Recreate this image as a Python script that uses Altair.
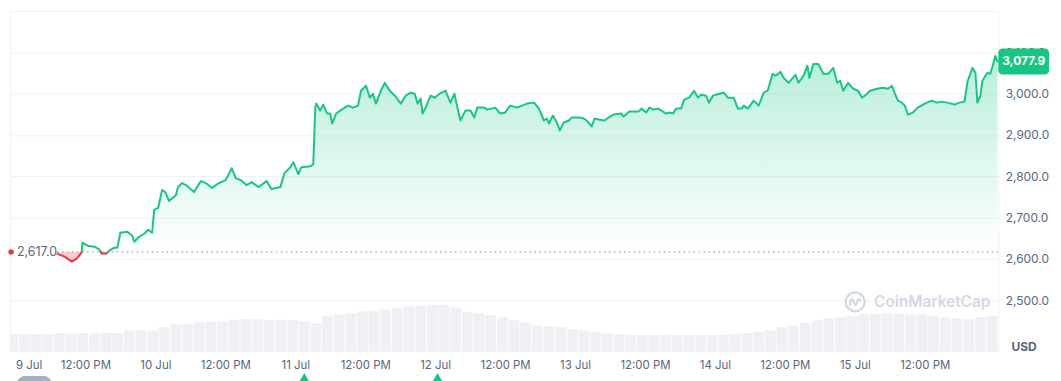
import altair as alt
import pandas as pd

# ---------------- data ----------------
baseline = 2617.0
last_price = 3077.9

# hours after 9 Jul 00:00
hours = [-0.77, 0.77, 2.47, 4.18, 5.88, 7.08, 8.44, 9.64, 10.49, 11.34, 11.51, 12.37, 13.56, 14.41,
         14.76, 15.61, 16.12, 16.97, 17.48, 18.0, 19.19, 20.04, 20.38, 21.24, 22.09, 22.77, 23.45,
         23.8, 24.48, 25.16, 25.67, 26.35, 27.55, 27.89, 28.57, 29.25, 30.62, 31.81, 32.67, 33.69,
         34.88, 36.08, 37.1, 37.78, 38.64, 39.66, 40.51, 41.71, 43.07, 43.92, 45.46, 46.14, 47.17,
         47.68, 48.53, 49.04, 50.58, 51.09, 51.43, 51.6, 52.28, 52.79, 53.48, 53.99, 54.33, 55.01,
         56.21, 57.06, 57.91, 58.77, 59.28, 60.13, 60.81, 61.32, 61.84, 62.69, 63.37, 64.22, 65.08,
         66.1, 66.95, 67.81, 68.49, 69.0, 69.51, 69.85, 70.36, 71.22, 71.9, 72.75, 73.78, 74.63,
         75.31, 75.82, 76.33, 77.19, 78.04, 78.72, 79.23, 80.43, 80.94, 82.31, 83.16, 84.01, 84.86,
         86.06, 87.76, 88.96, 89.81, 90.66, 91.17, 91.52, 92.2, 92.88, 93.39, 94.07, 94.93, 95.44,
         96.8, 97.49, 98.0, 98.85, 99.36, 100.05, 101.07, 101.75, 102.6, 103.97, 104.31, 105.33,
         106.87, 107.38, 108.23, 108.75, 109.43, 110.28, 111.64, 112.16, 112.84, 113.35, 114.2,
         114.72, 115.57, 116.42, 117.1, 117.61, 118.47, 118.98, 119.66, 120.69, 121.54, 122.22,
         123.24, 123.93, 124.61, 124.95, 125.63, 126.66, 127.51, 128.36, 129.04, 129.9, 130.41,
         131.26, 131.77, 132.63, 133.82, 134.33, 135.19, 135.87, 136.21, 136.89, 137.74, 138.6,
         139.45, 140.3, 140.98, 141.5, 142.01, 142.86, 143.71, 144.57, 145.25, 146.1, 146.61,
         147.81, 148.83, 149.68, 150.37, 150.88, 151.39, 152.07, 152.58, 153.1, 153.95, 154.8,
         155.99, 157.19, 158.04, 158.89, 159.92, 161.11, 161.96, 162.82, 163.33, 164.18, 164.69,
         165.03, 165.55, 165.89, 166.74, 167.25, 167.6, 168.1, 168.45]

prices = [2617.0, 2615.4, 2613.0, 2615.4, 2613.0, 2613.0, 2605.7, 2593.7, 2600.9, 2615.4, 2639.4,
          2632.2, 2629.8, 2622.6, 2613.0, 2613.0, 2620.2, 2627.4, 2627.4, 2663.4, 2665.8, 2656.2,
          2641.8, 2653.8, 2661.0, 2670.7, 2663.4, 2718.7, 2723.5, 2766.8, 2762.0, 2740.4, 2754.8,
          2774.0, 2783.6, 2778.8, 2762.0, 2788.4, 2783.6, 2771.6, 2783.6, 2790.9, 2819.7, 2795.7,
          2790.9, 2778.8, 2786.0, 2774.0, 2788.4, 2769.2, 2774.0, 2807.7, 2822.1, 2834.1, 2805.3,
          2822.1, 2824.5, 2829.3, 2966.3, 2976.0, 2959.1, 2973.6, 2951.9, 2951.9, 2927.9, 2951.9,
          2963.9, 2971.2, 2966.3, 2971.2, 3007.2, 3019.2, 2990.4, 3000.0, 2976.0, 3007.2, 3026.4,
          3007.2, 2995.2, 2976.0, 2995.2, 3002.4, 3000.0, 2976.0, 2988.0, 2951.9, 2966.3, 2995.2,
          2990.4, 3000.0, 3007.2, 2978.4, 3000.0, 2966.3, 2935.1, 2959.1, 2959.1, 2942.3, 2966.3,
          2966.3, 2961.5, 2966.3, 2951.9, 2954.3, 2971.2, 2966.3, 2976.0, 2978.4, 2963.9, 2935.1,
          2939.9, 2927.9, 2947.1, 2930.3, 2911.1, 2930.3, 2935.1, 2942.3, 2942.3, 2939.9, 2935.1,
          2920.7, 2939.9, 2937.5, 2935.1, 2942.3, 2949.5, 2951.9, 2944.7, 2956.7, 2956.7, 2963.9,
          2954.3, 2966.3, 2961.5, 2963.9, 2951.9, 2954.3, 2951.9, 2963.9, 2963.9, 2985.6, 2990.4,
          3007.2, 2990.4, 2997.6, 2995.2, 2978.4, 2995.2, 3000.0, 3002.4, 2990.4, 2990.4, 2963.9,
          2963.9, 2971.2, 2963.9, 2983.2, 2971.2, 3002.4, 3007.2, 3048.1, 3043.3, 3052.9, 3038.5,
          3026.4, 3045.7, 3026.4, 3043.3, 3067.3, 3038.5, 3072.1, 3072.1, 3048.1, 3048.1, 3062.5,
          3026.4, 3031.3, 3007.2, 3026.4, 3012.0, 3007.2, 2990.4, 3000.0, 3007.2, 3012.0, 3014.4,
          3012.0, 3019.2, 3000.0, 2983.2, 2978.4, 2971.2, 2949.5, 2954.3, 2966.3, 2976.0, 2983.2,
          2978.4, 2980.8, 2978.4, 2973.6, 2978.4, 2980.8, 3028.8, 3062.5, 3050.5, 2978.4, 2995.2,
          3031.3, 3050.5, 3048.1, 3064.9, 3091.4, 3077.9]

# relative volume (bar heights in pixels of the 342px plot), one bar per 2 hours
vol_heights = [17, 17, 17.5, 17, 18, 17.5, 18, 18, 18.5, 18, 20.5, 21, 20.5, 24, 27, 27.5, 29, 29.5,
               29.5, 31.5, 32, 32, 31, 31.5, 31, 30, 28, 35, 37, 38, 40, 40.5, 42, 43, 45, 45.5,
               46.5, 46.5, 44, 39.5, 38, 36, 34, 31, 29, 26, 25, 24, 22, 21, 19, 18, 17, 16.5, 16,
               16, 16.5, 16, 16, 16, 16, 16.5, 17, 18, 19.5, 21, 24, 26, 28.5, 31, 33, 34, 35.5,
               37, 37.5, 38, 37.5, 37, 37, 35.5, 34, 33, 32, 34, 35.5]

event_hours = [49.55, 72.4]
y_ticks = [2500, 2600, 2700, 2800, 2900, 3000, 3100, 3200]
label_days = [9, 10, 11, 12, 13, 14, 15]

# ---------------- helpers ----------------
BASE = pd.Timestamp("2024-07-09 00:00:00")
GREEN = "#16c784"
RED = "#ea3943"
GRAY = "#58667e"
GRID = "#eff2f5"
FONT = "Inter"
Y_MIN, Y_MAX, PLOT_H = 2377, 3200, 342


def ts(h):
    return (BASE + pd.to_timedelta(h, unit="h")).round("s")


def dt(t):
    return alt.DateTime(year=t.year, month=t.month, date=t.day,
                        hours=t.hour, minutes=t.minute, seconds=t.second)


x_domain = [dt(ts(-0.94)), dt(ts(168.62))]
x_values = [alt.DateTime(year=2024, month=7, date=d, hours=hh) for d in label_days for hh in (0, 12)]


def side(p):
    return "up" if p >= baseline else "down"


line_rows, area_rows = [], []
seg = 0
for i, (h, p) in enumerate(zip(hours, prices)):
    if i > 0:
        h0, p0 = hours[i - 1], prices[i - 1]
        if side(p0) != side(p):
            f = (baseline - p0) / (p - p0)
            hc = h0 + f * (h - h0)
            line_rows.append({"h": hc, "price": baseline, "seg": seg, "side": side(p0)})
            area_rows.append({"h": hc, "price": baseline})
            seg += 1
            line_rows.append({"h": hc, "price": baseline, "seg": seg, "side": side(p)})
    line_rows.append({"h": h, "price": p, "seg": seg, "side": side(p)})
    area_rows.append({"h": h, "price": p})

line_df = pd.DataFrame(line_rows)
line_df["t"] = ts(line_df["h"])
area_df = pd.DataFrame(area_rows)
area_df["t"] = ts(area_df["h"])
area_df["up"] = area_df["price"].clip(lower=baseline)
area_df["dn"] = area_df["price"].clip(upper=baseline)
area_df["base"] = baseline

vol_df = pd.DataFrame({"vol": vol_heights})
vol_df["t0"] = ts(pd.Series([2 * i - 1.4 for i in range(len(vol_heights))]))
vol_df["t1"] = ts(pd.Series([2 * i + 0.45 for i in range(len(vol_heights))]))

first_df = pd.DataFrame({"t": [ts(hours[0])], "price": [prices[0]], "base": [baseline],
                         "label": [f"{baseline:,.1f}"]})
last_df = pd.DataFrame({"t": [ts(hours[-1])], "price": [last_price], "label": [f"{last_price:,.1f}"]})
base_df = pd.DataFrame({"base": [baseline]})
event_df = pd.DataFrame({"t": ts(pd.Series(event_hours))})
one_df = pd.DataFrame({"a": [0]})

# ---------------- encodings (identical axis spec on every layer so they merge) ----------------
X_SCALE = alt.Scale(domain=x_domain)
Y_SCALE = alt.Scale(domain=[Y_MIN, Y_MAX], nice=False, zero=False)

X_AXIS = alt.Axis(values=x_values, grid=False, domain=False, ticks=False, title=None,
                  labelExpr="hours(datum.value) == 0 ? timeFormat(datum.value, '%-d %b') : timeFormat(datum.value, '%-I:%M %p')",
                  labelPadding=9, labelFontSize=11.5, labelColor=GRAY, labelFont=FONT, labelFlush=8)
Y_AXIS = alt.Axis(orient="right", values=y_ticks, format=",.1f", grid=True, gridColor=GRID,
                  domain=False, ticks=False, title=None, labelPadding=7, labelFontSize=12,
                  labelColor=GRAY, labelFont=FONT,
                  labelExpr="datum.value > 3150 ? '' : datum.label")


def xenc(f):
    return alt.X(f, type="temporal", scale=X_SCALE, axis=X_AXIS)


def yenc(f):
    return alt.Y(f, type="quantitative", scale=Y_SCALE, axis=Y_AXIS)


green_grad = alt.Gradient(gradient="linear",
                          stops=[alt.GradientStop(color="rgba(22,199,132,0.0)", offset=0),
                                 alt.GradientStop(color="rgba(22,199,132,0.30)", offset=1)],
                          x1=1, x2=1, y1=1, y2=0)

# volume bars, drawn in the lower part of the shared price scale
vol = alt.Chart(vol_df).transform_calculate(
    vy=f"{Y_MIN} + datum.vol * {(Y_MAX - Y_MIN) / PLOT_H}", vb=f"{Y_MIN}"
).mark_rect(color="#eef0f4", clip=True).encode(
    x=xenc("t0"), x2="t1:T", y=yenc("vy"), y2="vb:Q",
)
area_up = alt.Chart(area_df).mark_area(color=green_grad).encode(
    x=xenc("t"), y=yenc("up"), y2="base:Q",
)
area_dn = alt.Chart(area_df).mark_area(color=RED, opacity=0.25).encode(
    x=xenc("t"), y=yenc("dn"), y2="base:Q",
)
base_rule = alt.Chart(base_df).mark_rule(color="#9aa3b2", strokeDash=[1.5, 3.5], strokeWidth=1.2).encode(
    y=yenc("base"),
)
line = alt.Chart(line_df).mark_line(strokeWidth=2, strokeJoin="round", strokeCap="round").encode(
    x=xenc("t"),
    y=yenc("price"),
    detail="seg:N",
    color=alt.Color("side:N", scale=alt.Scale(domain=["up", "down"], range=[GREEN, RED]), legend=None),
)
start_dot = alt.Chart(first_df).mark_point(filled=True, size=28, color=RED, opacity=1).encode(
    x=xenc("t"), y=yenc("price"),
)
label_box = alt.Chart(first_df).mark_rect(color="white", xOffset=3, x2Offset=46, yOffset=-8, y2Offset=8).encode(
    x=xenc("t"), x2="t:T", y=yenc("base"), y2="base:Q",
)
label_text = alt.Chart(first_df).mark_text(align="left", baseline="middle", dx=6, fontSize=12.5,
                                           color=GRAY, font=FONT).encode(
    x=xenc("t"), y=yenc("base"), text="label:N",
)
badge = alt.Chart(last_df).mark_rect(color=GREEN, cornerRadius=4, yOffset=-13, y2Offset=13).encode(
    x=alt.value(994), x2=alt.value(1045),
    y=yenc("price"), y2="price:Q",
)
badge_text = alt.Chart(last_df).mark_text(color="white", fontWeight="bold", fontSize=12, font=FONT,
                                          baseline="middle", align="center").encode(
    x=alt.value(1019.5), y=yenc("price"), text="label:N",
)
wm_circle = alt.Chart(one_df).mark_point(shape="circle", filled=False, size=361, strokeWidth=2.3,
                                         color="#d3d9e3", opacity=1).encode(
    x=alt.value(850), y=alt.value(292.5))
wm_wave = alt.Chart(one_df).mark_point(
    shape="M-0.55,0.4 L-0.5,-0.1 Q-0.36,-0.48 -0.2,-0.1 L-0.06,0.22 Q0.08,0.5 0.2,0.12 L0.3,-0.2 Q0.45,-0.45 0.56,-0.02",
    filled=False, size=361, strokeWidth=2.3, color="#d3d9e3", opacity=1).encode(
    x=alt.value(850), y=alt.value(292.5))
wm_text = alt.Chart(one_df).mark_text(text="CoinMarketCap", align="left", baseline="middle",
                                      fontSize=15.5, fontWeight=600, font=FONT, color="#d3d9e3").encode(
    x=alt.value(869), y=alt.value(293))
usd = alt.Chart(one_df).mark_text(text="USD", align="center", baseline="middle", fontSize=12,
                                  fontWeight="bold", font=FONT, color=GRAY).encode(
    x=alt.value(1020), y=alt.value(338))
events = alt.Chart(event_df).mark_point(shape="triangle-up", filled=True, size=260, color=GREEN,
                                        opacity=1).encode(x=xenc("t"), y=alt.value(371))
pill = alt.Chart(one_df).mark_rect(color="#a6b0c3", cornerRadius=8).encode(
    x=alt.value(7), x2=alt.value(42), y=alt.value(367), y2=alt.value(385))

chart = alt.layer(vol, area_up, area_dn, base_rule, line, start_dot, label_box, label_text,
                  badge, badge_text, wm_circle, wm_wave, wm_text, usd, events, pill).properties(
    width=994, height=PLOT_H, background="white",
    autosize=alt.AutoSizeParams(type="none"),
    padding={"left": 2, "top": 2, "right": 55, "bottom": 29},
).configure_view(stroke=GRID, strokeWidth=1)

chart.save("out.html", embed_options={"renderer": "svg", "actions": False})
